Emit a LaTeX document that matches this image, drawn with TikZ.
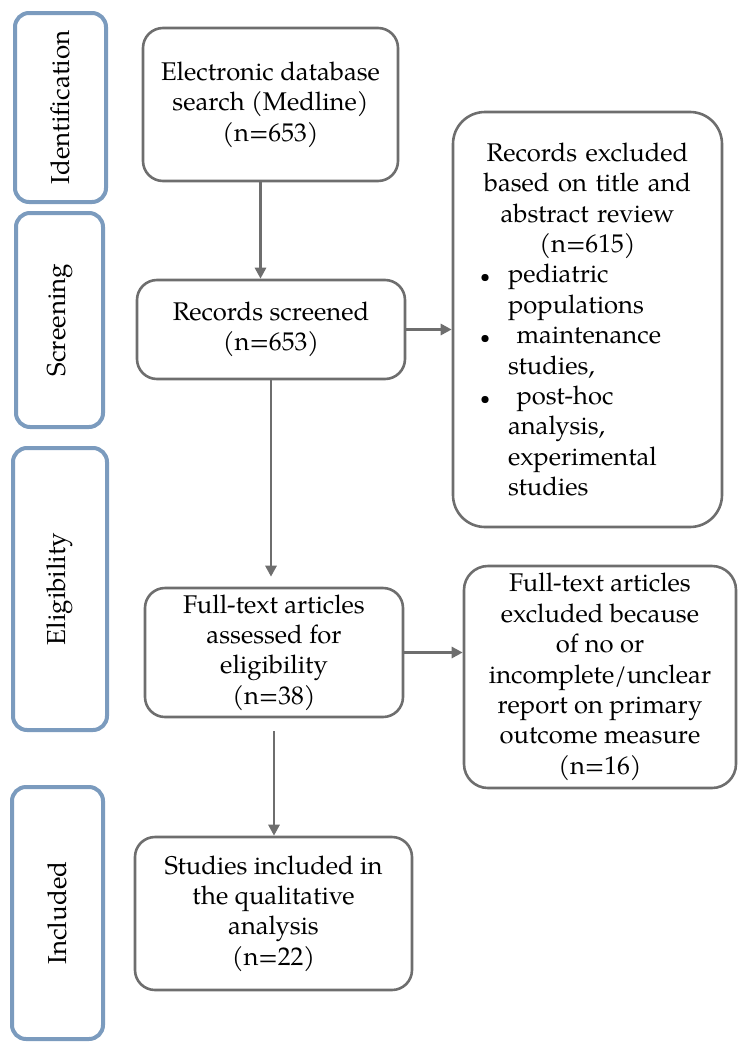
\documentclass[tikz,border=0pt]{standalone}
\usepackage{fontspec}
\setmainfont{texgyrepagella}[Extension=.otf, UprightFont=*-regular]
\usepackage{graphicx}
\usepackage{tikz}
\usetikzlibrary{arrows.meta,positioning,calc}

\definecolor{boxgray}{HTML}{6E6E6E}
\definecolor{stageblue}{HTML}{7B9BBE}

\tikzset{
  box/.style={draw=boxgray, line width=1.3pt, rounded corners=10pt, align=center,
    inner sep=0pt, font=\fontsize{12.8}{15.2}\selectfont},
  stage/.style={draw=stageblue, line width=2pt, rounded corners=7pt, inner sep=0pt,
    font=\fontsize{13}{14}\selectfont},
  flow/.style={draw=boxgray, line width=1.4pt, -{Triangle[length=5.5pt,width=5.5pt]}}
}

\newcommand{\bul}{\hspace*{13.5pt}\makebox[14pt][l]{\scalebox{0.7}{\textbullet}}}
\newcommand{\bulin}{\hspace*{27.5pt}}

\begin{document}
\begin{tikzpicture}[x=0.5pt, y=-0.5pt]
  \useasboundingbox (0,0) rectangle (750,1049);

  % Stages
  \node[stage, minimum width=45.5pt, minimum height=94.5pt] (ident) at (60.5,107.5) {\rotatebox{90}{Identification}};
  \node[stage, minimum width=43.5pt, minimum height=107pt] (screen) at (59.5,320) {\rotatebox{90}{Screening}};
  \node[stage, minimum width=47pt, minimum height=141pt] (elig) at (60,589) {\rotatebox{90}{Eligibility}};
  \node[stage, minimum width=45.5pt, minimum height=126pt] (incl) at (57.5,913) {\rotatebox{90}{Included}};

  % Boxes
  \node[box, minimum width=127.5pt, minimum height=76.5pt] (search) at (270.5,104.5)
    {Electronic database\\search (Medline)\\(n=653)};
  \node[box, minimum width=134pt, minimum height=49.5pt] (screened) at (271,329.5)
    {Records screened\\(n=653)};
  \node[box, rounded corners=16pt, text width=134.5pt, minimum height=207.5pt, align=left] (excl1) at (587.5,319.5)
    {{\centering Records excluded\\based on title and\\abstract review\\(n=615)\par}
     \bul pediatric\\
     \bulin populations\\
     \bul\ maintenance\\
     \bulin studies,\\
     \bul\ post-hoc\\
     \bulin analysis,\\
     \bulin experimental\\
     \bulin studies};
  \node[box, minimum width=129pt, minimum height=64.5pt] (fulltext) at (274,652.5)
    {Full-text articles\\assessed for\\eligibility\\(n=38)};
  \node[box, rounded corners=12pt, minimum width=136pt, minimum height=111pt] (excl2) at (600,677)
    {Full-text articles\\excluded because\\of no or\\incomplete/unclear\\report on primary\\outcome measure\\(n=16)};
  \node[box, minimum width=138.5pt, minimum height=76.5pt] (studies) at (273.5,913.5)
    {Studies included in\\the qualitative\\analysis\\(n=22)};

  % Arrows
  \draw[flow] ([xshift=-5pt]search.south) -- ([xshift=-5pt]search.south |- screened.north);
  \draw[flow] (screened.east) -- (screened.east -| excl1.west);
  \draw[flow, shorten >=5pt] (screened.south) -- (screened.south |- fulltext.north);
  \draw[flow] (fulltext.east) -- (fulltext.east -| excl2.west);
  \draw[flow, shorten <=6.5pt] (fulltext.south) -- (fulltext.south |- studies.north);
\end{tikzpicture}
\end{document}
